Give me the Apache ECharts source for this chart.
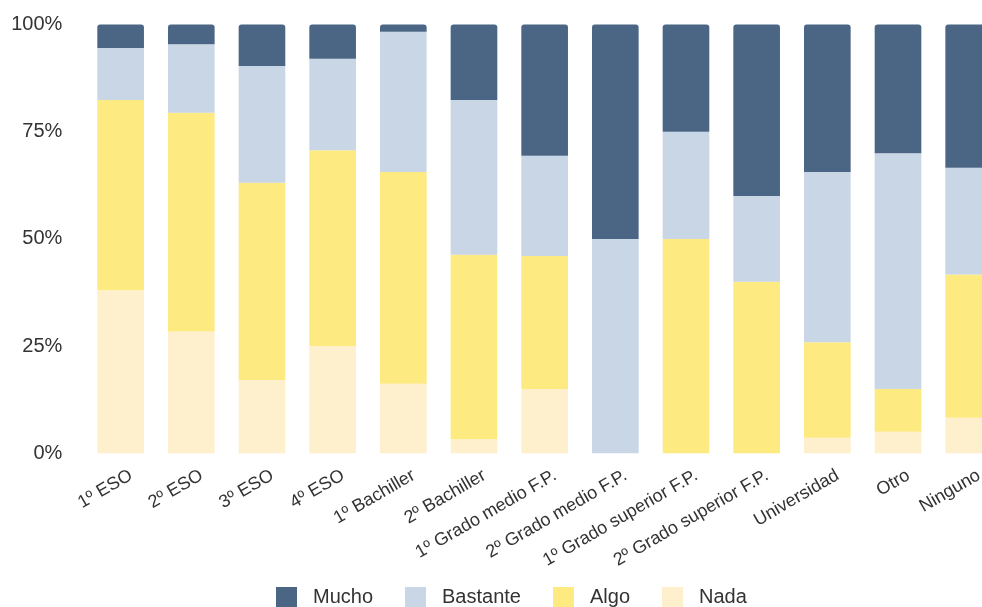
<!DOCTYPE html>
<html>
<head>
<meta charset="utf-8">
<script src="https://cdn.jsdelivr.net/npm/echarts@6/dist/echarts.min.js"></script>
<style>
  html, body { margin: 0; padding: 0; background: #ffffff; }
  #chart { width: 982px; height: 607px; }
</style>
</head>
<body>
<div id="chart"></div>
<script>
// Nivel de estudios (categorías del eje X)
const categories = [
  '1º ESO', '2º ESO', '3º ESO', '4º ESO', '1º Bachiller', '2º Bachiller',
  '1º Grado medio F.P.', '2º Grado medio F.P.', '1º Grado superior F.P.',
  '2º Grado superior F.P.', 'Universidad', 'Otro', 'Ninguno'
];

// Porcentajes por respuesta (cada columna suma 100)
const nada     = [38.0, 28.4, 17.1, 25.0, 16.2,  3.3, 15.0,  0.0,  0.0,  0.0,  3.6,  5.0,  8.3];
const algo     = [44.4, 51.0, 46.0, 45.7, 49.4, 43.0, 31.0,  0.0, 50.0, 40.0, 22.3, 10.0, 33.4];
const bastante = [12.1, 16.0, 27.2, 21.3, 32.7, 36.1, 23.4, 50.0, 25.0, 20.0, 39.7, 55.0, 24.9];
const mucho    = [ 5.5,  4.6,  9.7,  8.0,  1.7, 17.6, 30.6, 50.0, 25.0, 40.0, 34.4, 30.0, 33.4];

// Marcas del eje Y
const yTicks = [0, 25, 50, 75, 100];

const colors = {
  Mucho: '#4B6584',
  Bastante: '#C9D6E5',
  Algo: '#FDEA80',
  Nada: '#FEF0CD'
};

const font = '"Liberation Sans", Arial, sans-serif';

const chart = echarts.init(document.getElementById('chart'));

function barSeries(name, data, radius) {
  return {
    name: name,
    type: 'bar',
    stack: 'total',
    data: data,
    barCategoryGap: '34%',
    itemStyle: { color: colors[name], borderRadius: radius || 0 },
    emphasis: { disabled: true }
  };
}

chart.setOption({
  animation: false,
  // the plot area runs a little past the right edge, so the last column is cut
  grid: {
    left: 85.3, width: 918.7, top: 24.5, height: 428.8,
    containLabel: false, outerBoundsMode: 'none'
  },
  legend: {
    data: ['Mucho', 'Bastante', 'Algo', 'Nada'],
    left: 271,
    top: 582,
    itemWidth: 21,
    itemHeight: 21,
    itemGap: 32,
    icon: 'rect',
    textStyle: { fontSize: 20, color: '#333333', fontFamily: font, padding: [4, 0, 0, 11] }
  },
  xAxis: {
    type: 'category',
    data: categories,
    axisLine: { show: false },
    axisTick: { show: false },
    axisLabel: {
      interval: 0,
      rotate: 30,
      margin: 27,
      fontSize: 18,
      color: '#333333',
      fontFamily: font,
      padding: [0, -12, 0, 0]
    }
  },
  yAxis: {
    type: 'value',
    min: yTicks[0],
    max: yTicks[yTicks.length - 1],
    interval: yTicks[1] - yTicks[0],
    splitLine: { show: false },
    axisLine: { show: false },
    axisTick: { show: false },
    axisLabel: {
      formatter: '{value}%',
      fontSize: 20,
      margin: 23,
      color: '#333333',
      fontFamily: font
    }
  },
  series: [
    barSeries('Nada', nada),
    barSeries('Algo', algo),
    barSeries('Bastante', bastante),
    barSeries('Mucho', mucho, [3, 3, 0, 0])
  ]
});
</script>
</body>
</html>
